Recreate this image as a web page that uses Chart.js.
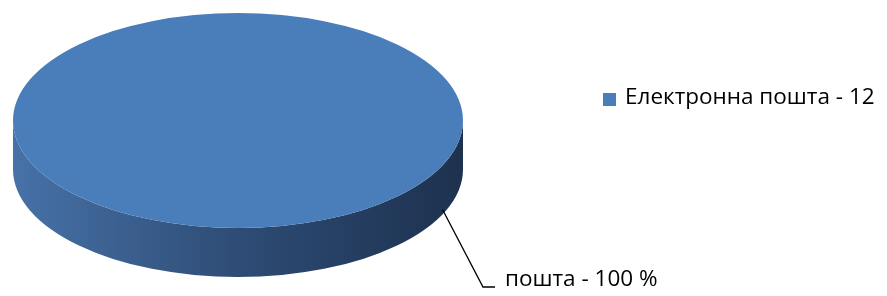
<!DOCTYPE html>
<html>
<head>
<meta charset="utf-8">
<script src="https://cdn.jsdelivr.net/npm/chart.js@4/dist/chart.umd.min.js"></script>
<style>
html,body{margin:0;padding:0;background:#fff;}
#wrap{width:887px;height:296px;position:relative;}
</style>
</head>
<body>
<div id="wrap"><canvas id="c" width="887" height="296"></canvas></div>
<script>
const categories = ['Електронна пошта'];
const legendValues = [12];
const percentLabels = ['пошта - 100 %'];
const seriesValues = [100];

const TOP_COLOR = '#4a7ebb';
const FONT = '"Open Sans", sans-serif';
const TILT = 0.478;   // vertical squash of the pie
const DEPTH = 49;     // thickness of the 3D side

const pie3d = {
  id: 'pie3d',
  beforeDatasetsDraw(chart) {
    const arc = chart.getDatasetMeta(0).data[0];
    if (!arc) return;
    const ctx = chart.ctx;
    const cx = arc.x, cy = arc.y, R = arc.outerRadius, ry = R * TILT;
    // side wall
    ctx.save();
    const g = ctx.createLinearGradient(cx - R, 0, cx + R, 0);
    g.addColorStop(0, '#4772a8');
    g.addColorStop(0.5, '#2e4c75');
    g.addColorStop(0.85, '#22395a');
    g.addColorStop(1, '#1e324f');
    ctx.fillStyle = g;
    ctx.beginPath();
    ctx.moveTo(cx - R, cy);
    ctx.lineTo(cx - R, cy + DEPTH);
    ctx.ellipse(cx, cy + DEPTH, R, ry, 0, Math.PI, 0, true);
    ctx.lineTo(cx + R, cy);
    ctx.ellipse(cx, cy, R, ry, 0, 0, Math.PI, false);
    ctx.closePath();
    ctx.fill();
    ctx.restore();
    // squash top
    ctx.save();
    ctx.translate(cx, cy);
    ctx.scale(1, TILT);
    ctx.translate(-cx, -cy);
  },
  afterDatasetsDraw(chart) {
    const ctx = chart.ctx;
    ctx.restore();
    const arc = chart.getDatasetMeta(0).data[0];
    if (!arc) return;
    const cx = arc.x, cy = arc.y, R = arc.outerRadius, ry = R * TILT;
    // leader line + label
    const ang = 0.43;
    const sx = cx + R * Math.cos(ang);
    const sy = cy + ry * Math.sin(ang) + DEPTH * 0.9;
    const ex = 483, ey = 287;
    ctx.save();
    ctx.strokeStyle = '#000';
    ctx.lineWidth = 1.3;
    ctx.beginPath();
    ctx.moveTo(sx, sy);
    ctx.lineTo(ex, ey);
    ctx.lineTo(ex + 12, ey);
    ctx.stroke();
    ctx.fillStyle = '#000';
    ctx.font = '22.5px ' + FONT;
    ctx.textBaseline = 'middle';
    ctx.textAlign = 'left';
    ctx.fillText(percentLabels[0], 505, 280);
    // legend
    ctx.fillStyle = TOP_COLOR;
    ctx.fillRect(603, 93, 13, 13);
    ctx.fillStyle = '#000';
    ctx.fillText(categories[0] + ' - ' + legendValues[0], 625, 98);
    ctx.restore();
  }
};

new Chart(document.getElementById('c'), {
  type: 'pie',
  data: {
    labels: categories,
    datasets: [{
      data: seriesValues,
      backgroundColor: [TOP_COLOR],
      borderWidth: 0,
      clip: false
    }]
  },
  options: {
    responsive: false,
    animation: false,
    radius: 225,
    layout: { padding: { left: 0, right: 411, top: 0, bottom: 55 } },
    plugins: { legend: { display: false }, tooltip: { enabled: false } }
  },
  plugins: [pie3d]
});
</script>
</body>
</html>
